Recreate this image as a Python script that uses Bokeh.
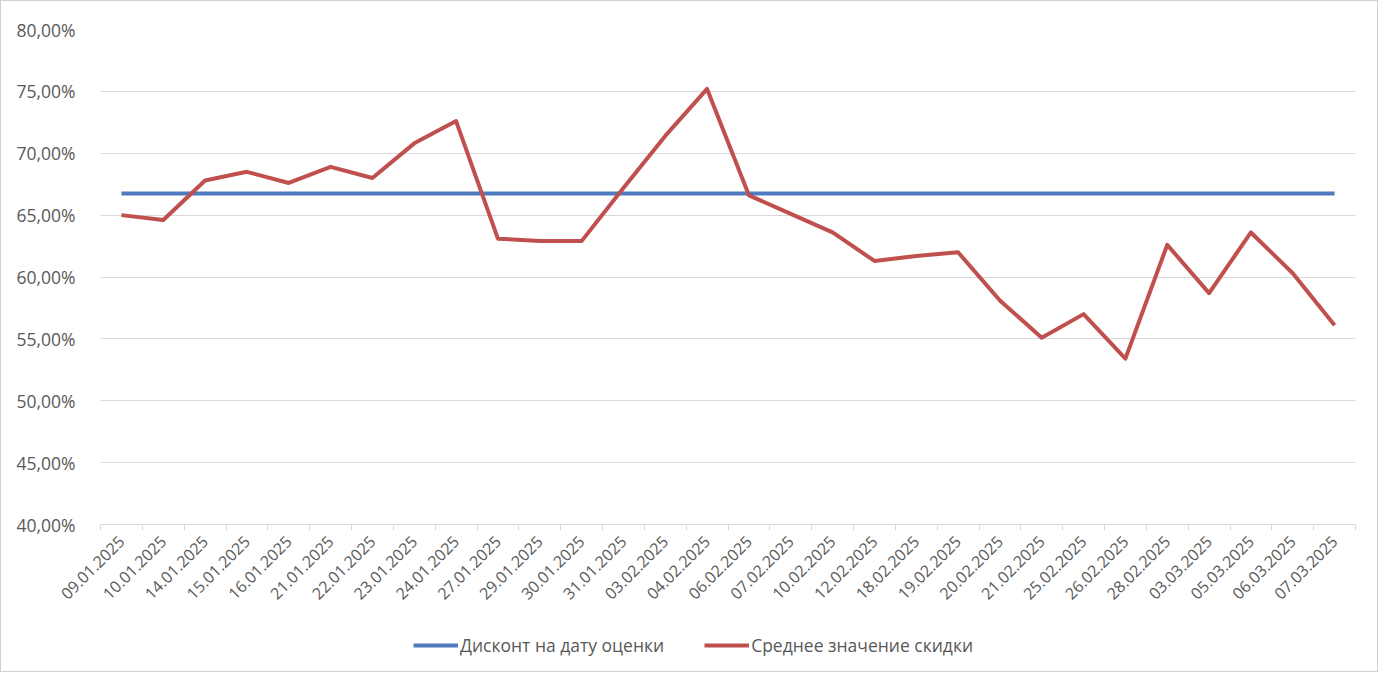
from bokeh.plotting import figure
from bokeh.layouts import column
from bokeh.models import FixedTicker, Legend, LegendItem, Range1d, ColumnDataSource
from bokeh.embed import file_html
from bokeh.resources import INLINE
from math import pi

dates = ["09.01.2025", "10.01.2025", "14.01.2025", "15.01.2025", "16.01.2025",
         "21.01.2025", "22.01.2025", "23.01.2025", "24.01.2025", "27.01.2025",
         "29.01.2025", "30.01.2025", "31.01.2025", "03.02.2025", "04.02.2025",
         "06.02.2025", "07.02.2025", "10.02.2025", "12.02.2025", "18.02.2025",
         "19.02.2025", "20.02.2025", "21.02.2025", "25.02.2025", "26.02.2025",
         "28.02.2025", "03.03.2025", "05.03.2025", "06.03.2025", "07.03.2025"]

discount = [66.75, 66.75, 66.75, 66.75, 66.75, 66.75, 66.75, 66.75, 66.75, 66.75,
            66.75, 66.75, 66.75, 66.75, 66.75, 66.75, 66.75, 66.75, 66.75, 66.75,
            66.75, 66.75, 66.75, 66.75, 66.75, 66.75, 66.75, 66.75, 66.75, 66.75]

average = [65.0, 64.6, 67.8, 68.5, 67.6, 68.9, 68.0, 70.8, 72.6, 63.1,
           62.9, 62.9, 67.2, 71.4, 75.2, 66.6, 65.1, 63.6, 61.3, 61.7,
           62.0, 58.1, 55.1, 57.0, 53.4, 62.6, 58.7, 63.6, 60.3, 56.1]

y_ticks = [40, 45, 50, 55, 60, 65, 70, 75, 80]
y_tick_labels = ["40,00%", "45,00%", "50,00%", "55,00%", "60,00%",
                 "65,00%", "70,00%", "75,00%", "80,00%"]

series_names = ["Дисконт на дату оценки", "Среднее значение скидки"]

BLUE = "#4F7BC0"
RED = "#C0504D"
TEXT = "#595959"
GRID = "#D9D9D9"
FONT = "Open Sans"

n = len(dates)
xs = [i + 0.5 for i in range(n)]
src = ColumnDataSource(dict(x=xs, date=dates, discount=discount, average=average))

p = figure(width=1376, height=615, output_backend="svg", toolbar_location=None,
           x_range=Range1d(0, n), y_range=Range1d(40, 80),
           min_border_left=99, min_border_right=22, min_border_top=28,
           min_border_bottom=92)

p.outline_line_color = None
p.background_fill_color = "white"
p.border_fill_color = "white"

r_blue = p.line("x", "discount", source=src, line_color=BLUE, line_width=4)
r_red = p.line("x", "average", source=src, line_color=RED, line_width=4,
               line_join="round")

# y axis
p.yaxis.ticker = FixedTicker(ticks=y_ticks)
p.yaxis.major_label_overrides = {t: l for t, l in zip(y_ticks, y_tick_labels)}
p.yaxis.axis_line_color = None
p.yaxis.major_tick_line_color = None
p.yaxis.minor_tick_line_color = None
p.yaxis.major_label_standoff = 19
p.yaxis.major_label_text_font = FONT
p.yaxis.major_label_text_font_size = "17.5px"
p.yaxis.major_label_text_color = TEXT

p.ygrid.ticker = FixedTicker(ticks=y_ticks)
p.ygrid.grid_line_color = GRID
p.xgrid.grid_line_color = None

# x axis: labels at category centres, tick marks at boundaries
p.xaxis.ticker = FixedTicker(ticks=xs, minor_ticks=list(range(n + 1)))
p.xaxis.major_label_overrides = {x: d for x, d in zip(xs, dates)}
p.xaxis.major_label_orientation = pi / 4
p.xaxis.axis_line_color = GRID
p.xaxis.major_tick_line_color = None
p.xaxis.minor_tick_line_color = GRID
p.xaxis.minor_tick_in = 0
p.xaxis.minor_tick_out = 6
p.xaxis.major_label_standoff = 8
p.xaxis.major_label_text_font = FONT
p.xaxis.major_label_text_font_size = "16px"
p.xaxis.major_label_text_color = TEXT

# legend strip below the chart (same series, drawn outside its visible range)
lg = figure(width=1376, height=55, output_backend="svg", toolbar_location=None,
            x_range=Range1d(0, n), y_range=Range1d(0, 1),
            min_border=0, x_axis_type=None, y_axis_type=None)
lg.outline_line_color = None
lg.xgrid.grid_line_color = None
lg.ygrid.grid_line_color = None
l_blue = lg.line("x", "discount", source=src, line_color=BLUE, line_width=4)
l_red = lg.line("x", "average", source=src, line_color=RED, line_width=4)

legend = Legend(items=[LegendItem(label=series_names[0], renderers=[l_blue]),
                       LegendItem(label=series_names[1], renderers=[l_red])],
                orientation="horizontal", location=(313, 14),
                border_line_color=None, background_fill_alpha=0,
                glyph_width=45, glyph_height=20, label_standoff=2, spacing=40,
                padding=0, margin=0,
                label_text_font=FONT, label_text_font_size="17.5px",
                label_text_color=TEXT)
lg.add_layout(legend, "center")

layout = column(p, lg, spacing=0)
layout.styles = {"border": "1px solid #D0D0D0", "background": "white"}

open("out.html", "w").write(file_html(layout, INLINE))
